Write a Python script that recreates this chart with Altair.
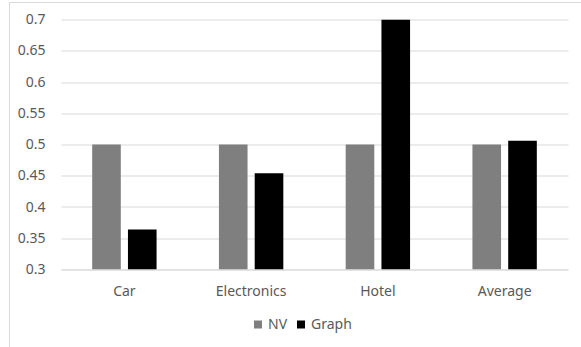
import altair as alt
import pandas as pd

# Scores per review domain for the two methods
categories = ["Car", "Electronics", "Hotel", "Average"]
series = ["NV", "Graph"]
nv_scores = [0.5, 0.5, 0.5, 0.5]
graph_scores = [0.364, 0.454, 0.7, 0.506]

y_ticks = [0.3, 0.35, 0.4, 0.45, 0.5, 0.55, 0.6, 0.65, 0.7]

rows = []
for cat, nv, gr in zip(categories, nv_scores, graph_scores):
    rows.append({"category": cat, "series": "NV", "value": nv})
    rows.append({"category": cat, "series": "Graph", "value": gr})
df = pd.DataFrame(rows)

FONT = "Noto Sans"
TEXT = "#595959"
GRID = "#d9d9d9"
FS = 14

bars = alt.Chart(df).mark_bar(clip=True).encode(
    x=alt.X(
        "category:N",
        sort=categories,
        title=None,
        scale=alt.Scale(paddingInner=0.492, paddingOuter=0.246),
        axis=alt.Axis(
            labelAngle=0,
            labelPadding=15,
            ticks=False,
            domainColor=GRID,
            labelColor=TEXT,
            labelFontSize=FS,
            labelFont=FONT,
        ),
    ),
    xOffset=alt.XOffset(
        "series:N", sort=series, scale=alt.Scale(paddingInner=0.2, paddingOuter=0)
    ),
    y=alt.Y(
        "value:Q",
        title=None,
        scale=alt.Scale(domain=[0.3, 0.7], nice=False, zero=False),
        axis=alt.Axis(
            values=y_ticks,
            format=".2~f",
            ticks=False,
            domain=False,
            gridColor=GRID,
            labelPadding=16,
            labelColor=TEXT,
            labelFontSize=FS,
            labelFont=FONT,
        ),
    ),
    y2=alt.Y2(datum=0.3),
    color=alt.Color(
        "series:N",
        sort=series,
        scale=alt.Scale(domain=series, range=["#7f7f7f", "#000000"]),
        legend=alt.Legend(
            title=None,
            orient="none",
            direction="horizontal",
            legendX=190,
            legendY=298,
            symbolType="square",
            symbolSize=64,
            symbolStrokeWidth=0,
            labelColor=TEXT,
            labelFontSize=FS,
            labelFont=FONT,
            columnPadding=6,
            labelOffset=3,
            padding=0,
        ),
    ),
)

# Thin outer frame around the whole chart
frame = alt.Chart(alt.Data(values=[{}])).mark_rect(
    fill=None, stroke=GRID, strokeWidth=1
).encode(
    x=alt.value(-51.5),
    x2=alt.value(560),
    y=alt.value(-17),
    y2=alt.value(360),
)

chart = (
    alt.layer(frame, bars)
    .properties(
        width=507,
        height=250,
        autosize=alt.AutoSizeParams(type="none"),
        padding={"left": 61, "top": 19.5, "right": 13, "bottom": 77.5},
        background="white",
    )
    .configure_view(stroke=None)
)

chart.save("out.html", embed_options={"renderer": "svg", "actions": False})
